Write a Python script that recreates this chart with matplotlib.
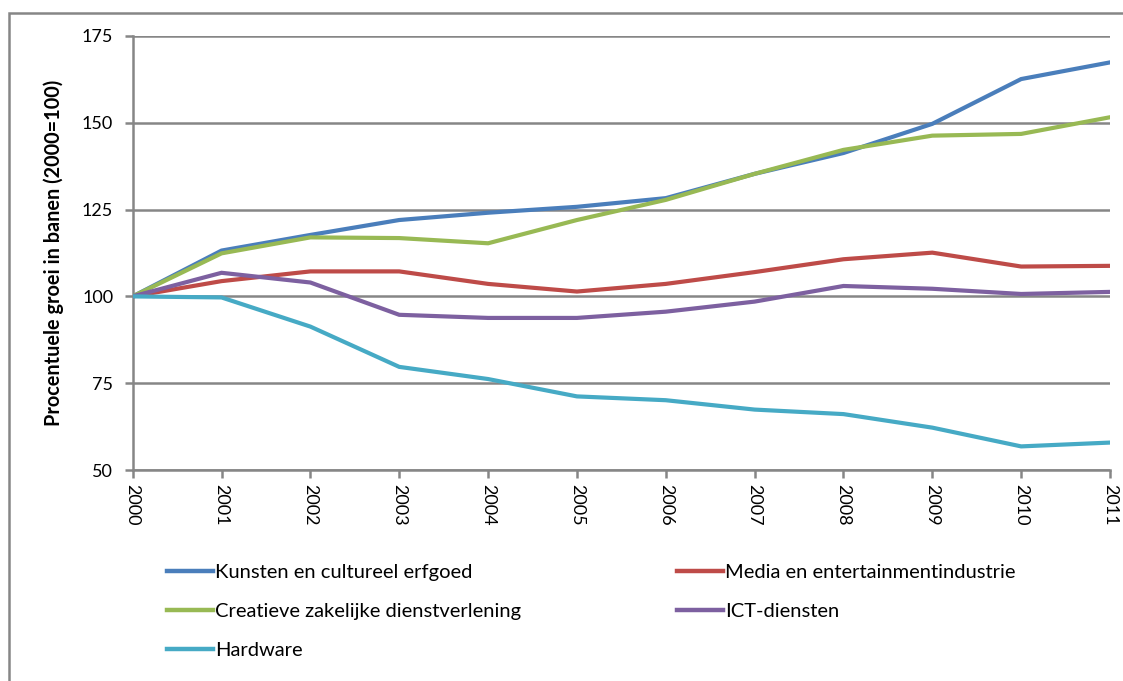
import matplotlib
matplotlib.use("Agg")
import matplotlib.pyplot as plt
from matplotlib.lines import Line2D
from matplotlib.patches import Rectangle

plt.rcParams['font.family'] = ['Lato', 'DejaVu Sans']

years = [2000, 2001, 2002, 2003, 2004, 2005, 2006, 2007, 2008, 2009, 2010, 2011]

kunsten = [100, 113.2, 117.7, 122.0, 124.1, 125.8, 128.3, 135.3, 141.3, 149.7, 162.6, 167.4]
media = [100, 104.4, 107.2, 107.2, 103.6, 101.4, 103.6, 107.0, 110.7, 112.6, 108.6, 108.8]
creatief = [100, 112.4, 117.0, 116.8, 115.3, 122.0, 127.8, 135.3, 142.2, 146.3, 146.8, 151.6]
ict = [100, 106.8, 104.0, 94.7, 93.8, 93.8, 95.6, 98.5, 103.0, 102.2, 100.7, 101.3]
hardware = [100, 99.7, 91.3, 79.7, 76.2, 71.2, 70.1, 67.4, 66.1, 62.2, 56.8, 57.9]

series = [
    ("Kunsten en cultureel erfgoed", kunsten, "#4a7ebb"),
    ("Media en entertainmentindustrie", media, "#be4b48"),
    ("Creatieve zakelijke dienstverlening", creatief, "#98b954"),
    ("ICT-diensten", ict, "#7d60a0"),
    ("Hardware", hardware, "#46aac5"),
]
# teken volgorde: blauw eerst, groen erover, etc.
draw_order = [0, 2, 1, 3, 4]

grid_col = "#868686"

fig = plt.figure(figsize=(11.23, 6.81), dpi=100)
W, H = 1123, 681
ax = fig.add_axes([132.7 / W, 1 - 470 / H, (1110 - 132.7) / W, (470 - 36) / H])

for i in draw_order:
    name, vals, col = series[i]
    ax.plot(years, vals, color=col, lw=3.0, solid_joinstyle='miter', zorder=3)

ax.set_xlim(2000, 2011)
ax.set_ylim(50, 175)
ax.set_yticks([50, 75, 100, 125, 150, 175])
ax.set_xticks(years)
ax.set_xticklabels([str(y) for y in years], rotation=-90, fontsize=13)
ax.tick_params(axis='y', labelsize=13, length=6, width=1.8, color=grid_col, pad=8)
ax.tick_params(axis='x', length=6, width=1.8, color=grid_col, pad=4)
ax.yaxis.grid(True, color=grid_col, lw=1.8, zorder=1)
for s in ['top', 'right']:
    ax.spines[s].set_visible(False)
for s in ['left', 'bottom']:
    ax.spines[s].set_color(grid_col)
    ax.spines[s].set_linewidth(1.8)
ax.set_ylabel("Procentuele groei in banen (2000=100)", fontsize=14.3, fontweight='bold')
ax.yaxis.set_label_coords((64 - 132.7) / (1110 - 132.7), 0.5)

# buitenrand van de grafiek
fig.patches.append(Rectangle((9 / W, -0.1), 1.2, 1 - 13 / H + 0.1, transform=fig.transFigure,
                             fill=False, edgecolor=grid_col, lw=1.8))

handles = [Line2D([0], [0], color=c, lw=3.2) for _, _, c in series]
labels = [n for n, _, _ in series]
# volgorde voor 2 kolommen (rijen: K/M, C/ICT, H)
order = [0, 2, 4, 1, 3]
leg = fig.legend([handles[i] for i in order], [labels[i] for i in order], ncol=2,
                 loc='upper left', bbox_to_anchor=(167 / W, 1 - 564 / H), frameon=False,
                 fontsize=14.5, handlelength=2.3, handletextpad=0.1, columnspacing=7.7,
                 labelspacing=1.08, borderpad=0, borderaxespad=0)

fig.savefig("out.png", dpi=100)
